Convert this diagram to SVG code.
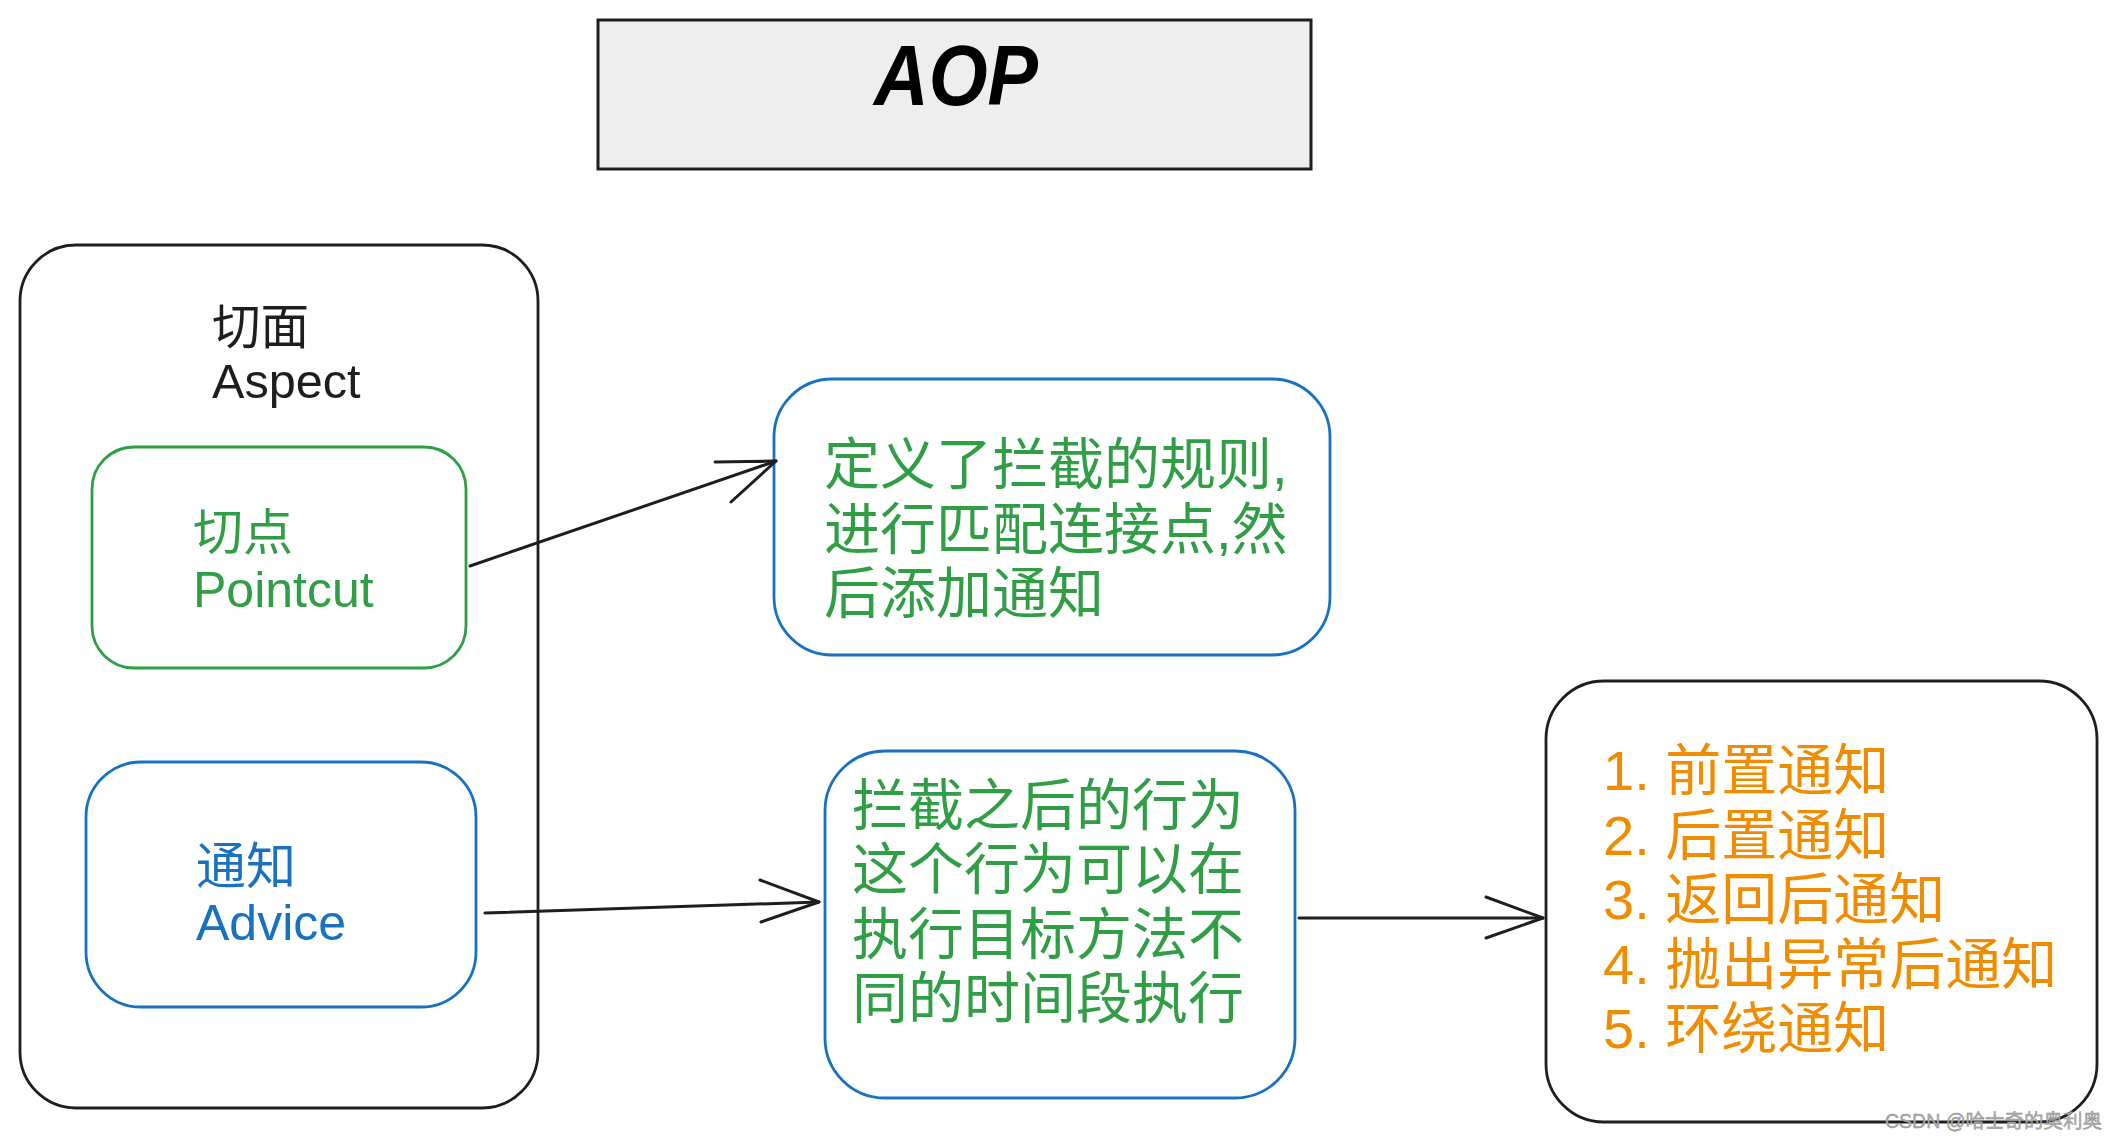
<svg xmlns="http://www.w3.org/2000/svg" width="2118" height="1140" viewBox="0 0 2118 1140">
<style>
.cjk{font-family:"Liberation Sans","Noto Sans CJK SC",sans-serif}
.box{fill:#ffffff;stroke-width:2.8;stroke-linejoin:round}
.blk{stroke:#1e1e1e}
.grn{stroke:#2f9e44}
.blu{stroke:#1971c2}
.t-blk{fill:#1e1e1e}
.t-grn{fill:#2f9e44}
.t-blu{fill:#1971c2}
.t-org{fill:#f08c00}
.conn line, .conn polyline{stroke:#1e1e1e;stroke-width:3;fill:none;stroke-linecap:round;stroke-linejoin:round}
</style>
<rect width="2118" height="1140" fill="#ffffff"/>

<g id="title">
<rect x="598" y="20" width="713" height="149" fill="#eeeeee" stroke="#1e1e1e" stroke-width="3"/>
<text x="956" y="105" text-anchor="middle" font-family="Liberation Sans, sans-serif" font-size="86" font-weight="bold" font-style="italic" fill="#000000" textLength="164" lengthAdjust="spacingAndGlyphs">AOP</text>
</g>

<g id="aspect">
<rect class="box blk" x="20" y="245" width="518" height="863" rx="56" ry="56"/>
<text class="cjk t-blk" font-size="48.6"><tspan x="212" y="344">切面</tspan><tspan x="212" y="398">Aspect</tspan></text>
</g>

<g id="pointcut">
<rect class="box grn" x="92" y="447" width="374" height="221" rx="42" ry="42"/>
<text class="cjk t-grn" font-size="50"><tspan x="193" y="550">切点</tspan><tspan x="193" y="607">Pointcut</tspan></text>
</g>

<g id="advice">
<rect class="box blu" x="86" y="762" width="390" height="245" rx="55" ry="55"/>
<text class="cjk t-blu" font-size="50"><tspan x="196" y="884">通知</tspan><tspan x="196" y="940">Advice</tspan></text>
</g>

<g id="rule">
<rect class="box blu" x="774" y="379" width="556" height="276" rx="58" ry="58"/>
<text class="cjk t-grn" font-size="56"><tspan x="824" y="484">定义了拦截的规则,</tspan><tspan x="824" y="548.5">进行匹配连接点,然</tspan><tspan x="824" y="613">后添加通知</tspan></text>
</g>

<g id="behavior">
<rect class="box blu" x="825" y="751" width="470" height="347" rx="60" ry="60"/>
<text class="cjk t-grn" font-size="56"><tspan x="852" y="825">拦截之后的行为</tspan><tspan x="852" y="889.3">这个行为可以在</tspan><tspan x="852" y="953.6">执行目标方法不</tspan><tspan x="852" y="1018">同的时间段执行</tspan></text>
</g>

<g id="types">
<rect class="box blk" x="1546" y="681" width="551" height="441" rx="58" ry="58"/>
<text class="cjk t-org" font-size="56"><tspan x="1603" y="790">1. 前置通知</tspan><tspan x="1603" y="854.5">2. 后置通知</tspan><tspan x="1603" y="919">3. 返回后通知</tspan><tspan x="1603" y="983.5">4. 抛出异常后通知</tspan><tspan x="1603" y="1048">5. 环绕通知</tspan></text>
</g>

<g id="connectors" class="conn">
<line x1="470" y1="566" x2="776" y2="461"/>
<polyline points="715,462 776,461 731,502"/>
<line x1="485" y1="913" x2="819" y2="902"/>
<polyline points="760,880 819,902 761,922"/>
<line x1="1299" y1="918" x2="1543" y2="918"/>
<polyline points="1486,897 1543,918 1486,938"/>
</g>

<text x="2102" y="1128" text-anchor="end" class="cjk" font-size="19.5" fill="#b0b0b0" stroke="#8a8a8a" stroke-width="0.4">CSDN @哈士奇的奥利奥</text>
</svg>
